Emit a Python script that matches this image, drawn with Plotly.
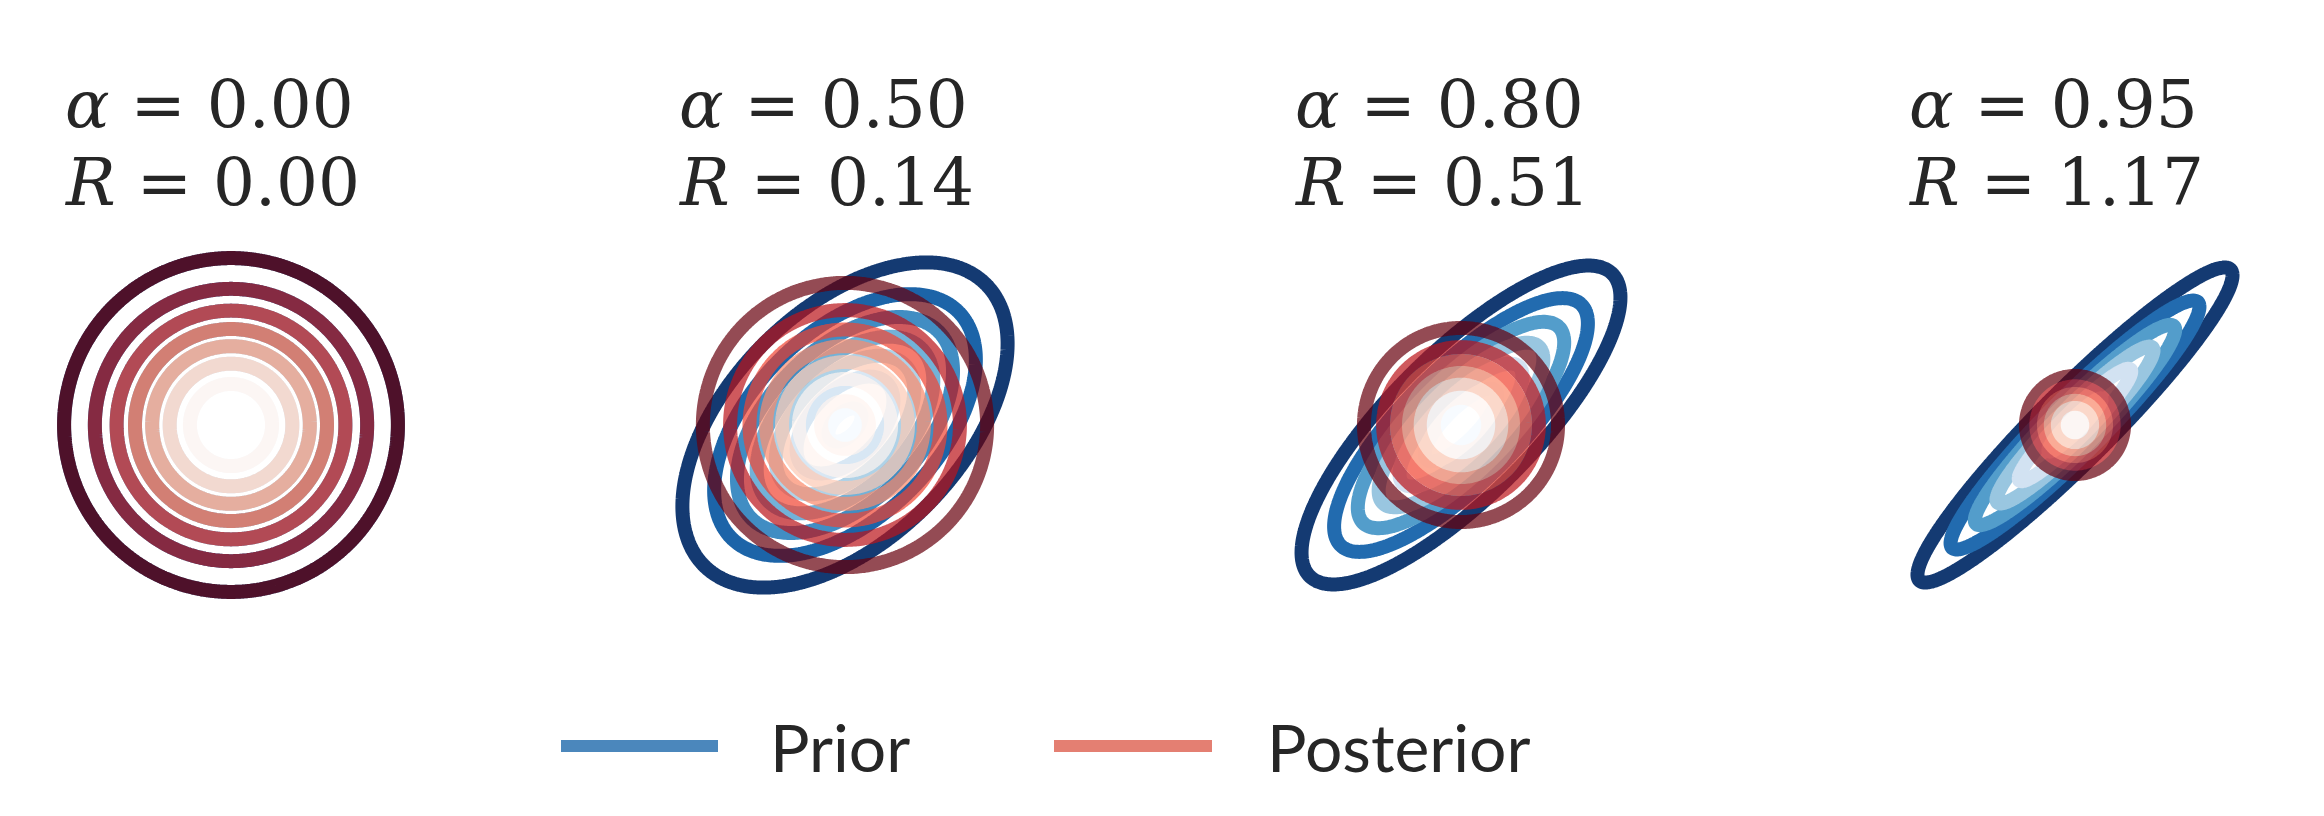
import numpy as np
import plotly.graph_objects as go

# ---- data ----
alphas = [0.00, 0.50, 0.80, 0.95]              # prior correlation per panel
rates = [0.00, 0.14, 0.51, 1.17]               # R shown in titles
prior_level_step = [0.126, 0.140, 0.151, 0.158]      # contour step, fraction of prior peak
posterior_level_step = [0.126, 0.135, 0.143, 0.160]  # contour step, fraction of posterior peak
n_levels = 7
legend_labels = ["Prior", "Posterior"]

# ---- styling ----
W, H = 2324, 816
blues_r = ["#08306b", "#08519c", "#2171b5", "#4292c6", "#6baed6",
           "#9ecae1", "#c6dbef", "#deebf7", "#f7fbff"]
reds_r = ["#67000d", "#a50f15", "#cb181d", "#ef3b2c", "#fb6a4a",
          "#fc9272", "#fcbba1", "#fee0d2", "#fff5f0"]


def cscale(cols):
    n = len(cols) - 1
    return [[i / n, c] for i, c in enumerate(cols)]


panel_cx = [223, 837, 1453, 2067]   # panel centres in px
panel_cy = 417
px_per_unit = 82
half_px = 220
half_u = half_px / px_per_unit

g = np.linspace(-2.8, 2.8, 281)
X, Y = np.meshgrid(g, g)

fig = go.Figure()
layout_axes = {}
annotations = []

for i, (a, r) in enumerate(zip(alphas, rates)):
    sfx = "" if i == 0 else str(i + 1)
    xa, ya = "x" + sfx, "y" + sfx
    det = 1 - a * a
    # prior N(0, [[1,a],[a,1]])
    zp = np.exp(-(X**2 - 2 * a * X * Y + Y**2) / (2 * det)) / (2 * np.pi * np.sqrt(det))
    pmax = 1 / (2 * np.pi * np.sqrt(det))
    # posterior N(0, (1-a^2) I)
    zq = np.exp(-(X**2 + Y**2) / (2 * det)) / (2 * np.pi * det)
    qmax = 1 / (2 * np.pi * det)

    for z, m, f0, cols, op, name in [
            (zp, pmax, prior_level_step[i], blues_r, 0.95, "Prior"),
            (zq, qmax, posterior_level_step[i], reds_r, 0.7, "Posterior")]:
        step = f0 * m
        lv = [k * step for k in range(1, n_levels + 1) if k * f0 < 0.999]
        fig.add_trace(go.Contour(
            x=g, y=g, z=z, xaxis=xa, yaxis=ya,
            autocontour=False,
            contours=dict(coloring="lines", start=lv[0], end=lv[-1] + step * 0.01,
                          size=step, showlabels=False),
            colorscale=cscale(cols), zauto=False, zmin=lv[0], zmax=lv[-1],
            showscale=False, line=dict(width=14, smoothing=1.0),
            opacity=op, hoverinfo="skip", name=name, showlegend=False))

    cx = panel_cx[i]
    layout_axes["xaxis" + sfx] = dict(
        domain=[max(0, (cx - half_px) / W), min(1, (cx + half_px) / W)],
        range=[-half_u, half_u], visible=False, anchor=ya)
    layout_axes["yaxis" + sfx] = dict(
        domain=[(H - panel_cy - half_px) / H, (H - panel_cy + half_px) / H],
        range=[-half_u, half_u], visible=False, anchor=xa)

    tx = (cx - 168) / W
    tfont = dict(family="DejaVu Serif, Liberation Serif, serif", size=66, color="#262626")
    annotations.append(dict(xref="paper", yref="paper", x=tx, y=(H - 96) / H,
                            xanchor="left", yanchor="middle", showarrow=False,
                            text="<i>α</i> = %.2f" % a, font=tfont))
    annotations.append(dict(xref="paper", yref="paper", x=tx, y=(H - 174) / H,
                            xanchor="left", yanchor="middle", showarrow=False,
                            text="<i>R</i> = %.2f" % r, font=tfont))

# ---- legend drawn manually ----
leg_cols = ["#4b87bc", "#e47f72"]
leg_line_x = [(553, 710), (1046, 1204)]
leg_text_x = [760, 1257]
leg_y = 738
shapes = []
for lab, col, (x0, x1), tx in zip(legend_labels, leg_cols, leg_line_x, leg_text_x):
    shapes.append(dict(type="line", xref="paper", yref="paper",
                       x0=x0 / W, x1=x1 / W, y0=(H - leg_y) / H, y1=(H - leg_y) / H,
                       line=dict(color=col, width=12)))
    annotations.append(dict(xref="paper", yref="paper", x=tx / W, y=(H - leg_y) / H,
                            xanchor="left", yanchor="middle", showarrow=False,
                            text=lab, font=dict(family="Lato, Roboto, sans-serif",
                                                size=66, color="#262626")))

fig.update_layout(
    width=W, height=H, margin=dict(l=0, r=0, t=0, b=0),
    paper_bgcolor="white", plot_bgcolor="white",
    showlegend=False, annotations=annotations, shapes=shapes,
    **layout_axes)

fig.write_html("out.html")
